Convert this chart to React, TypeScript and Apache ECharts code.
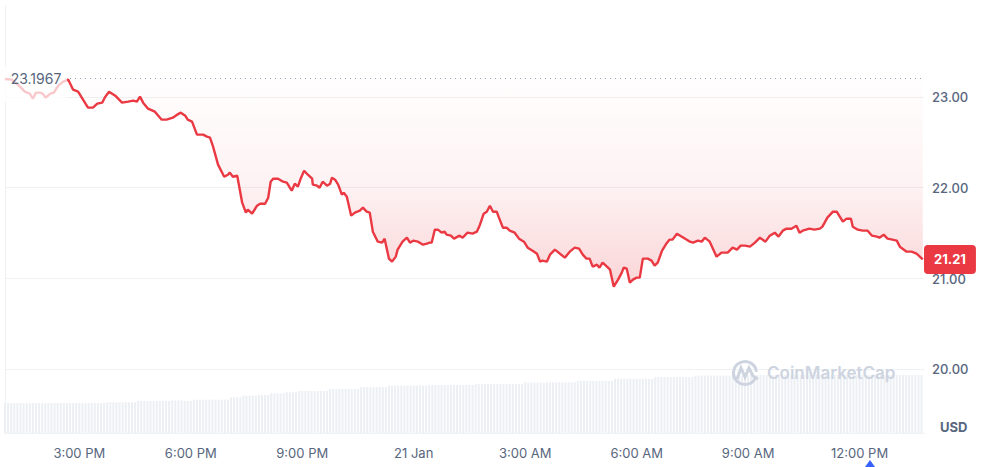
import React, { useEffect, useRef } from 'react';
import * as echarts from 'echarts';

// Start price (dotted reference line) and last price
const baselinePrice = 23.1967;
const lastPrice = 21.21;

// X axis: minutes since 20 Jan 13:00
const xAxisMaxMinute = 1484;
const xTickMinutes = [120, 300, 480, 660, 840, 1020, 1200, 1380];
const xTickLabels = ['3:00 PM', '6:00 PM', '9:00 PM', '21 Jan', '3:00 AM', '6:00 AM', '9:00 AM', '12:00 PM'];

// Price samples (minutes since 13:00, USD)
const priceMinutes = [
  0, 11, 21, 32, 40, 45, 50, 56, 61, 66, 73, 79, 86, 94, 102,
  110, 118, 126, 134, 142, 149, 157, 161, 168, 178, 189, 199, 207, 213, 218, 223, 231, 242, 253, 261, 271, 278, 284, 291, 295, 302, 310, 315, 320, 326, 331, 336, 344, 354, 360, 363,
  368, 375, 383, 389, 392, 399, 407, 412, 420, 425, 429, 433, 441, 449, 455, 460, 463, 468, 473, 478, 483, 489, 496, 497, 504, 508, 513, 520, 525, 528, 533, 538, 544, 547, 552, 559, 565, 573, 578, 584, 589, 594, 602, 609, 613, 620, 625, 631, 634, 642, 649, 654, 659, 667, 675, 681, 686, 689, 694, 699, 705, 710, 713, 720, 725, 731, 734,
  739, 747, 755, 762, 767, 773, 778, 783, 788, 794, 797, 804, 810, 815, 823, 830, 838, 844, 852, 859, 864, 868, 875, 880, 888, 894, 904, 912, 920, 927, 933, 939, 944, 949, 956, 960, 965, 972, 977, 983, 990, 996, 999, 1004, 1009, 1014, 1020, 1025, 1030, 1038, 1044, 1049, 1054, 1061, 1069, 1073, 1078, 1085, 1093, 1101, 1106,
  1111, 1119, 1125, 1130, 1138, 1149, 1157, 1167, 1175, 1182, 1188, 1195, 1203, 1211, 1219, 1228, 1235, 1243, 1249, 1256, 1262, 1270, 1278, 1283, 1288, 1299, 1307, 1316, 1320, 1328, 1337, 1343, 1348, 1353, 1359, 1366, 1369, 1377, 1385, 1393, 1400, 1408, 1412, 1419, 1425, 1433, 1440, 1445, 1456, 1464, 1472, 1482,
];
const priceValues = [
  23.197, 23.189, 23.134, 23.057, 23.035, 22.980, 23.046, 23.046, 23.035, 22.991, 23.035, 23.046, 23.123, 23.167, 23.190,
  23.079, 23.057, 22.969, 22.881, 22.881, 22.925, 22.936, 22.991, 23.057, 23.013, 22.936, 22.947, 22.958, 22.947, 23.002, 22.936, 22.870, 22.837, 22.749, 22.749, 22.771, 22.804, 22.826, 22.793, 22.749, 22.727, 22.584, 22.584, 22.584, 22.562, 22.551, 22.452, 22.254, 22.121, 22.143, 22.166,
  22.121, 22.132, 21.835, 21.725, 21.758, 21.714, 21.802, 21.824, 21.824, 21.890, 22.066, 22.099, 22.099, 22.066, 22.055, 22.000, 21.967, 22.044, 22.011, 22.110, 22.187, 22.143, 22.099, 22.033, 22.022, 22.000, 22.066, 22.022, 22.044, 22.110, 22.088, 22.033, 21.923, 21.945, 21.901, 21.692, 21.725, 21.747, 21.780, 21.736, 21.725, 21.516, 21.406, 21.395, 21.439, 21.219, 21.186, 21.241, 21.318, 21.406, 21.450, 21.395, 21.417, 21.406, 21.373, 21.384, 21.395, 21.395, 21.538, 21.538, 21.505, 21.516, 21.483, 21.472, 21.439, 21.461, 21.472,
  21.450, 21.505, 21.494, 21.516, 21.593, 21.714, 21.736, 21.802, 21.736, 21.736, 21.681, 21.560, 21.560, 21.527, 21.505, 21.439, 21.406, 21.340, 21.307, 21.274, 21.186, 21.197, 21.186, 21.263, 21.318, 21.285, 21.230, 21.296, 21.340, 21.329, 21.263, 21.219, 21.219, 21.131, 21.153, 21.120, 21.175, 21.131, 21.098, 20.911, 20.988, 21.065, 21.120, 21.109, 20.955, 20.988, 21.010, 21.010, 21.219, 21.219, 21.197, 21.142, 21.175, 21.307, 21.395, 21.428, 21.428, 21.494, 21.461, 21.428, 21.406,
  21.395, 21.417, 21.406, 21.450, 21.406, 21.241, 21.285, 21.285, 21.340, 21.318, 21.362, 21.362, 21.351, 21.395, 21.450, 21.406, 21.472, 21.505, 21.461, 21.527, 21.549, 21.549, 21.582, 21.505, 21.527, 21.549, 21.538, 21.549, 21.571, 21.670, 21.736, 21.736, 21.681, 21.626, 21.659, 21.659, 21.571, 21.538, 21.527, 21.527, 21.472, 21.461, 21.450, 21.483, 21.439, 21.428, 21.417, 21.351, 21.296, 21.296, 21.274, 21.21,
];

// Volume bars, one every 5 minutes from 13:00 (arbitrary units)
const volumeStepMinutes = 5;
const volumeValues = [
  14.0, 14.0, 14.0, 14.0, 14.0, 14.0, 14.0, 14.0, 14.0, 14.0, 14.0, 14.0,
  14.0, 14.0, 14.0, 14.0, 14.0, 14.0, 14.0, 14.0, 14.0, 14.0, 14.0, 14.0,
  14.0, 14.0, 14.0, 14.0, 14.0, 14.0, 14.0, 14.0, 14.0, 14.4, 14.4, 14.4,
  14.4, 14.4, 14.4, 14.4, 14.4, 14.4, 14.4, 15.0, 15.0, 15.0, 15.0, 15.0,
  15.0, 15.0, 15.0, 15.0, 15.0, 15.0, 15.3, 15.3, 15.3, 15.3, 15.0, 15.0,
  15.0, 15.6, 15.6, 15.6, 15.6, 15.6, 15.6, 15.6, 15.6, 15.6, 15.6, 15.6,
  15.6, 16.7, 16.7, 16.7, 16.7, 17.5, 17.5, 17.5, 17.5, 17.5, 17.9, 17.9,
  17.9, 17.9, 18.6, 18.6, 18.6, 18.6, 18.6, 19.1, 19.1, 19.1, 19.1, 19.7,
  19.7, 19.7, 19.7, 19.7, 19.7, 19.7, 19.7, 19.7, 19.7, 20.6, 20.6, 20.6,
  20.6, 20.6, 20.6, 20.6, 20.6, 20.6, 20.6, 21.5, 21.5, 21.5, 21.5, 21.5,
  21.5, 21.5, 21.5, 21.5, 22.2, 22.2, 22.2, 22.2, 22.2, 22.2, 22.2, 22.2,
  22.2, 22.2, 22.2, 22.2, 22.2, 22.5, 22.5, 22.5, 22.5, 22.5, 22.5, 22.5,
  22.5, 22.5, 22.5, 22.5, 22.5, 22.5, 22.5, 22.5, 23.0, 23.0, 23.0, 23.0,
  23.0, 23.0, 23.0, 23.0, 23.0, 23.0, 23.0, 23.0, 23.0, 23.0, 23.0, 23.0,
  23.7, 23.7, 23.7, 23.7, 23.7, 23.7, 23.7, 23.7, 23.7, 23.7, 23.7, 23.7,
  23.7, 23.7, 23.7, 23.7, 23.7, 24.4, 24.4, 24.4, 24.4, 24.4, 24.4, 24.4,
  24.4, 24.4, 24.4, 24.4, 24.4, 25.4, 25.4, 25.4, 25.4, 25.4, 25.4, 25.4,
  25.4, 25.4, 25.4, 25.4, 25.4, 25.4, 26.2, 26.2, 26.2, 26.2, 26.2, 26.2,
  26.2, 26.2, 26.2, 26.2, 26.2, 26.2, 26.2, 26.9, 26.9, 26.9, 26.9, 26.9,
  26.9, 26.9, 26.9, 26.9, 26.9, 26.9, 26.9, 26.9, 26.9, 26.9, 26.9, 27.2,
  27.2, 27.2, 27.2, 27.2, 27.2, 27.2, 27.2, 27.2, 27.2, 27.2, 27.2, 27.2,
  27.2, 27.2, 27.2, 27.2, 27.2, 27.2, 27.2, 27.2, 27.2, 27.2, 27.2, 27.2,
  27.2, 27.2, 27.2, 27.2, 27.2, 27.2, 27.2, 27.2, 27.2, 27.2, 27.2, 27.2,
  27.2, 27.2, 27.2, 27.2, 27.2, 27.2, 27.2, 27.2, 27.2, 27.2, 27.2, 27.2,
  27.2, 27.2, 27.2, 27.2, 27.2, 27.2, 27.2, 27.2, 27.2,
];

const AXIS_TEXT = '#58667e';
const GRID_LINE = '#eff2f5';
const RED = '#ea3943';
const WATERMARK = '#cdd4e0';
const FONT = 'Inter, "Noto Sans", sans-serif';

export default function App() {
  const ref = useRef<HTMLDivElement>(null);

  useEffect(() => {
    if (!ref.current) return;
    const chart = echarts.init(ref.current, null, { renderer: 'svg' });

    const n = Math.min(priceMinutes.length, priceValues.length);
    const priceData = [];
    for (let i = 0; i < n; i++) priceData.push([priceMinutes[i], priceValues[i]]);
    const volumeData = volumeValues.map((v, i) => [i * volumeStepMinutes, v]);

    const option = {
      animation: false,
      backgroundColor: '#ffffff',
      textStyle: { fontFamily: FONT },
      grid: { left: 5, right: 72, top: 6, bottom: 34, containLabel: false },
      xAxis: {
        type: 'value',
        min: 0,
        max: xAxisMaxMinute,
        axisLine: { show: true, lineStyle: { color: GRID_LINE } },
        axisTick: { show: false },
        splitLine: { show: false },
        axisLabel: {
          customValues: xTickMinutes,
          color: AXIS_TEXT,
          fontSize: 13,
          margin: 13,
          formatter: (v: number) => {
            const idx = xTickMinutes.indexOf(v);
            return idx >= 0 ? xTickLabels[idx] : '';
          },
        },
      },
      yAxis: [
        {
          type: 'value',
          position: 'right',
          min: 19.3,
          max: 24,
          axisLine: { show: true, lineStyle: { color: GRID_LINE } },
          axisTick: { show: false },
          splitLine: { show: true, showMinLine: false, showMaxLine: false, lineStyle: { color: GRID_LINE } },
          axisLabel: {
            color: AXIS_TEXT,
            fontSize: 13,
            fontWeight: 500,
            margin: 8,
            showMinLabel: false,
            showMaxLabel: false,
            formatter: (v: number) => v.toFixed(2),
          },
        },
        {
          type: 'value',
          position: 'left',
          min: 0,
          max: 200,
          axisLine: { show: true, lineStyle: { color: GRID_LINE } },
          axisTick: { show: false },
          splitLine: { show: false },
          axisLabel: { show: false },
        },
      ],
      series: [
        {
          type: 'bar',
          name: 'Volume',
          xAxisIndex: 0,
          yAxisIndex: 1,
          data: volumeData,
          barWidth: 2,
          silent: true,
          itemStyle: { color: '#eceff3' },
          z: 1,
        },
        {
          type: 'line',
          name: 'Price',
          xAxisIndex: 0,
          yAxisIndex: 0,
          data: priceData,
          symbol: 'none',
          showSymbol: false,
          lineStyle: { color: RED, width: 2.4 },
          itemStyle: { color: RED },
          areaStyle: {
            origin: baselinePrice,
            color: new echarts.graphic.LinearGradient(0, 0, 0, 1, [
              { offset: 0, color: 'rgba(234,57,67,0.01)' },
              { offset: 0.5, color: 'rgba(234,57,67,0.09)' },
              { offset: 1, color: 'rgba(234,57,67,0.30)' },
            ]),
          },
          z: 3,
          markLine: {
            silent: true,
            symbol: ['none', 'none'],
            data: [
              {
                yAxis: baselinePrice,
                lineStyle: { type: [1, 4], color: '#9aa3b5', width: 1 },
                label: { show: false },
              },
              {
                yAxis: lastPrice,
                lineStyle: { color: 'rgba(0,0,0,0)', width: 0 },
                label: {
                  show: true,
                  position: 'end',
                  distance: 0,
                  formatter: lastPrice.toFixed(2),
                  backgroundColor: RED,
                  color: '#ffffff',
                  fontWeight: 'bold',
                  fontSize: 13,
                  padding: [8, 10, 8, 10],
                  borderRadius: 4,
                },
              },
            ],
          },
          markPoint: {
            silent: true,
            data: [
              {
                coord: [priceMinutes[0], baselinePrice],
                symbol: 'rect',
                symbolSize: [62, 36],
                symbolOffset: [31, 5],
                itemStyle: { color: 'rgba(255,255,255,0.72)' },
                label: {
                  show: true,
                  position: 'inside',
                  formatter: String(baselinePrice),
                  color: AXIS_TEXT,
                  fontSize: 14,
                  offset: [0, -5],
                },
              },
            ],
          },
        },
      ],
      graphic: [
        {
          type: 'arc',
          z: 100,
          silent: true,
          shape: { cx: 745, cy: 373, r: 11.5, startAngle: 0.35, endAngle: Math.PI * 2 - 0.1 },
          style: { stroke: WATERMARK, lineWidth: 3, fill: 'none' },
        },
        {
          type: 'polyline',
          z: 100,
          silent: true,
          shape: { points: [[737, 379], [741, 368], [745, 377], [749, 368], [753, 376], [758, 379]] },
          style: { stroke: WATERMARK, lineWidth: 3, fill: 'none' },
        },
        {
          type: 'text',
          z: 100,
          silent: true,
          x: 767,
          y: 373,
          style: {
            text: 'CoinMarketCap',
            fontSize: 17,
            fontWeight: 600,
            fontFamily: FONT,
            fill: WATERMARK,
            verticalAlign: 'middle',
          },
        },
        {
          type: 'text',
          x: 940,
          y: 427,
          style: {
            text: 'USD',
            fontSize: 13,
            fontWeight: 'bold',
            fontFamily: FONT,
            fill: AXIS_TEXT,
            verticalAlign: 'middle',
          },
        },
        {
          type: 'polygon',
          shape: { points: [[865, 467], [870, 460], [875, 467]] },
          style: { fill: '#3861fb' },
        },
      ],
    };

    chart.setOption(option as any);
    return () => chart.dispose();
  }, []);

  return (
    <div
      ref={ref}
      style={{ position: 'fixed', left: 0, top: 0, width: 996, height: 467, background: '#ffffff' }}
    />
  );
}
